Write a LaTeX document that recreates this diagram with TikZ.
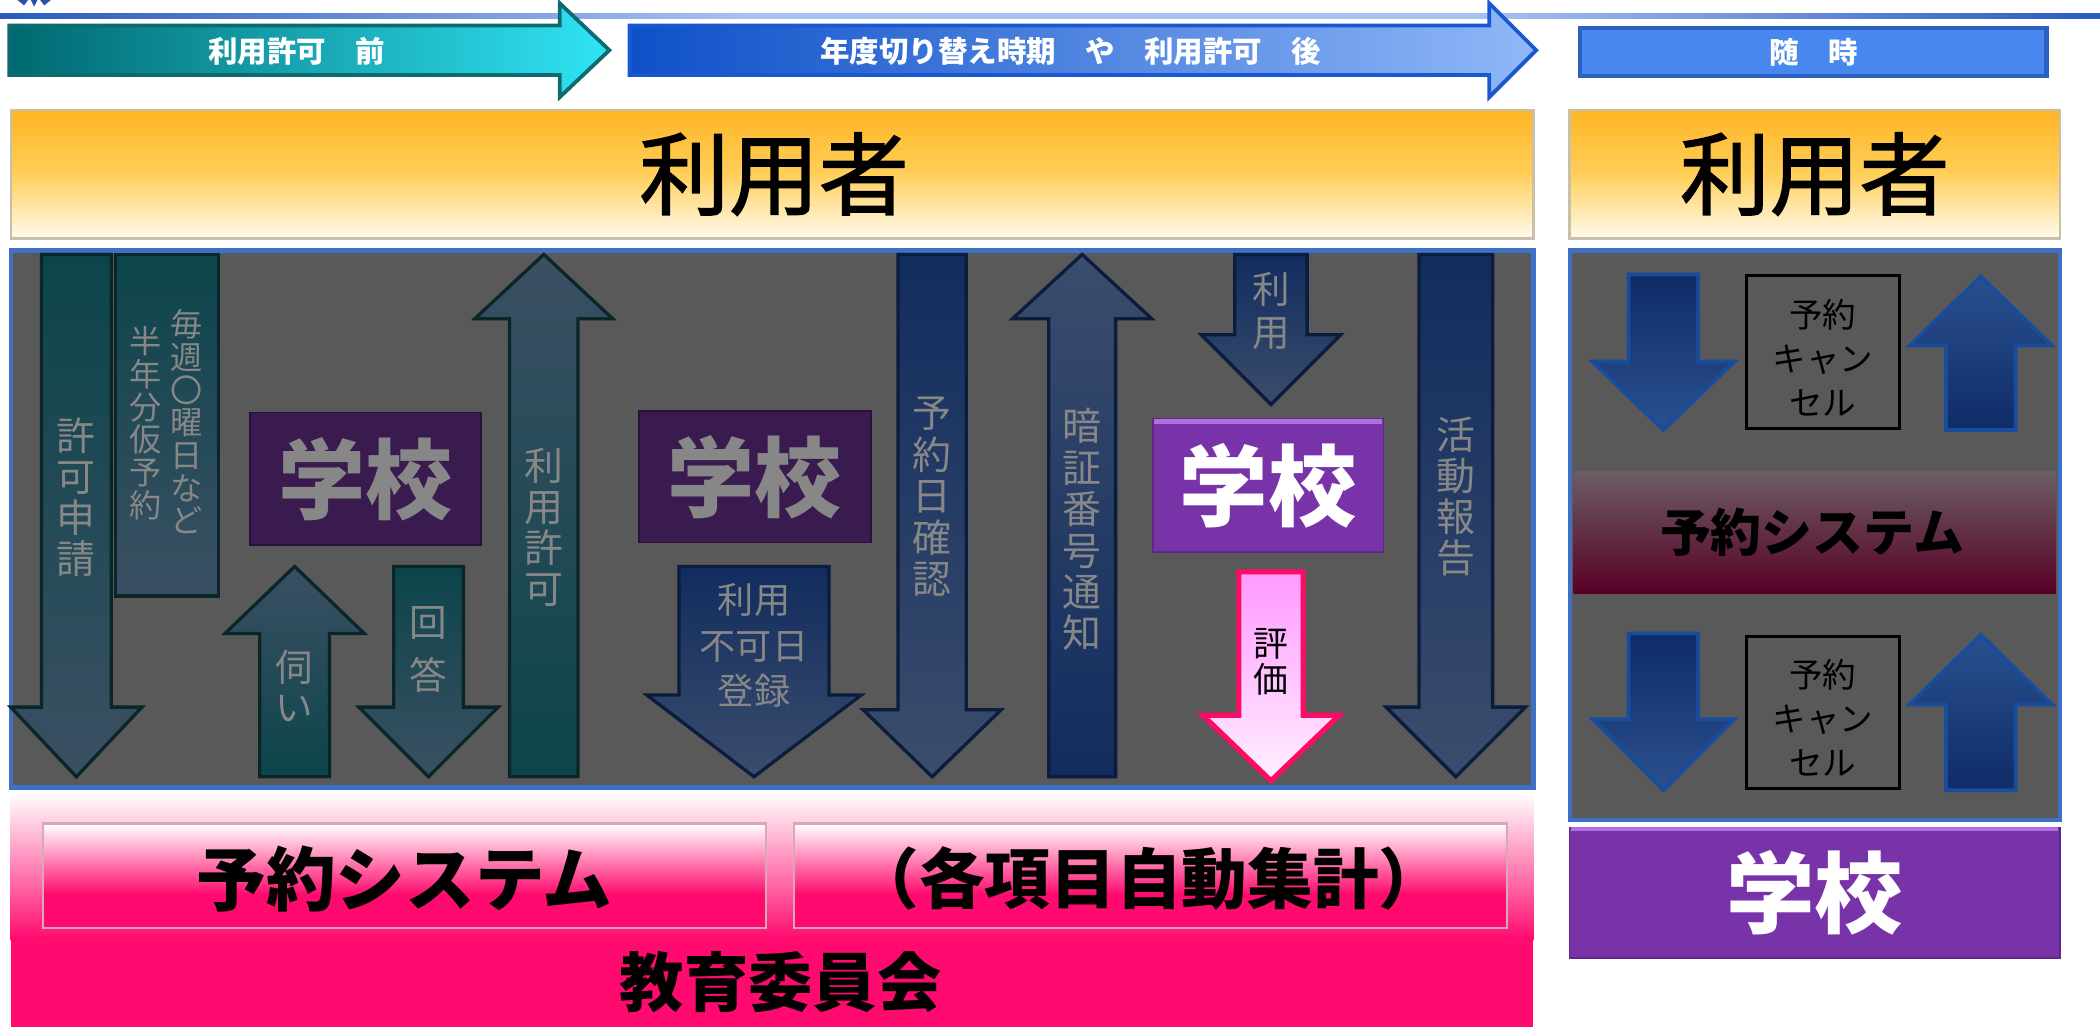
\documentclass[tikz,border=0pt]{standalone}
\usepackage{fontspec}
\setmainfont{Noto Sans CJK JP}
\newfontfamily\jpmed{Noto Sans CJK JP}[FakeBold=1.6]
\newcommand\fpx[2]{\fontsize{\fpeval{#1*0.28453}pt}{\fpeval{#2*0.28453}pt}\selectfont}
% arrow shapes: style, xc, ytop, ybase, ytip, half body, half head
\newcommand\ArDown[7]{\path[#1] ({#2-#6},#3) -- ({#2+#6},#3) -- ({#2+#6},#4) -- ({#2+#7},#4) -- (#2,#5) -- ({#2-#7},#4) -- ({#2-#6},#4) -- cycle;}
% style, xc, ytip, ybase, ybottom, half body, half head
\newcommand\ArUp[7]{\path[#1] (#2,#3) -- ({#2+#7},#4) -- ({#2+#6},#4) -- ({#2+#6},#5) -- ({#2-#6},#5) -- ({#2-#6},#4) -- ({#2-#7},#4) -- cycle;}
\definecolor{lineD}{HTML}{2A5AC0}
\definecolor{lineL}{HTML}{A8C2F0}
\definecolor{logoB}{HTML}{2A4FB0}
\definecolor{tealA}{HTML}{006870}
\definecolor{tealB}{HTML}{30E4F4}
\definecolor{tealEdge}{HTML}{0C6A70}
\definecolor{blueA}{HTML}{0E50C8}
\definecolor{blueB}{HTML}{90B8F8}
\definecolor{blueEdge}{HTML}{1A58D0}
\definecolor{zuiji}{HTML}{4787EE}
\definecolor{zuijiE}{HTML}{2B5FC0}
\definecolor{yelA}{HTML}{FFB525}
\definecolor{yelB}{HTML}{FFCF5A}
\definecolor{yelC}{HTML}{FFFBF0}
\definecolor{yelE}{HTML}{C8C0A8}
\definecolor{panelG}{HTML}{595959}
\definecolor{panelB}{HTML}{3E70C6}
\definecolor{tealT}{HTML}{0C454B}
\definecolor{tealS}{HTML}{3B4F63}
\definecolor{tealE}{HTML}{0A2629}
\definecolor{navyT}{HTML}{112C5E}
\definecolor{navyS}{HTML}{3B4D6D}
\definecolor{navyE}{HTML}{0B1C3C}
\definecolor{bluT}{HTML}{0E2C66}
\definecolor{bluS}{HTML}{2B508F}
\definecolor{bluE}{HTML}{1A4C9E}
\definecolor{pnkT}{HTML}{FF99FF}
\definecolor{pnkB}{HTML}{FFF0FF}
\definecolor{pnkE}{HTML}{FF0A64}
\definecolor{dimG}{HTML}{878787}
\definecolor{dimPur}{HTML}{3A1B4F}
\definecolor{dimPurE}{HTML}{2A1040}
\definecolor{purp}{HTML}{7833A8}
\definecolor{purpE}{HTML}{5E2A85}
\definecolor{purpL}{HTML}{B070E0}
\definecolor{hotpink}{HTML}{FF0A6E}
\definecolor{pinkE}{HTML}{D8A8B8}
\definecolor{bandT}{HTML}{6A5D64}
\definecolor{bandM}{HTML}{71213F}
\definecolor{bandB}{HTML}{5A0026}
\tikzset{
  tealdown/.style={top color=tealT, bottom color=tealS, draw=tealE, line width=0.7pt},
  tealup/.style={top color=tealS, bottom color=tealT, draw=tealE, line width=0.7pt},
  navydown/.style={top color=navyT, bottom color=navyS, draw=navyE, line width=0.7pt},
  navyup/.style={top color=navyS, bottom color=navyT, draw=navyE, line width=0.7pt},
  bluedown/.style={top color=bluT, bottom color=bluS, draw=bluE, line width=0.8pt},
  blueup/.style={top color=bluS, bottom color=bluT, draw=bluE, line width=0.8pt},
  pinkdown/.style={top color=pnkT, bottom color=pnkB, draw=pnkE, line width=1.1pt},
  dimtxt/.style={text=dimG, inner sep=0pt, align=center},
  toptxt/.style={text=white, inner sep=0pt, font=\bfseries\fpx{22}{22}},
  dimschool/.style={fill=dimPur, draw=dimPurE, line width=0.4pt, text=dimG, inner sep=0pt,
    font=\bfseries\fpx{65}{65}},
  school/.style={fill=purp, draw=purpE, line width=0.4pt, text=white, inner sep=0pt,
    font=\bfseries\fpx{66}{66}},
  cancelbox/.style={draw=black, line width=0.6pt, minimum width=1.14cm, minimum height=1.14cm, inner sep=0pt},
  canceltxt/.style={text=black, inner sep=0pt, align=center, font=\fpx{25}{33}},
  bigblack/.style={text=black, inner sep=0pt, font=\bfseries\fpx{52}{52}},
  usertxt/.style={text=black, inner sep=0pt, font=\jpmed\fpx{67}{67}},
}
\begin{document}
\begin{tikzpicture}[x=0.01cm,y=-0.01cm]
\useasboundingbox (0,0) rectangle (1568,767);
\fill[white] (0,0) rectangle (1568,767);
% clipped emblem at top-left
\fill[logoB] (13,0) -- (21,0) -- (18,4) -- cycle;
\fill[logoB] (23,0) -- (28,0) -- (25.5,5) -- cycle;
\fill[logoB] (30,0) -- (38,0) -- (33,4) -- cycle;
% top line
\shade[left color=lineD, right color=lineL] (0,10) rectangle (560,14);
\fill[lineL] (559,10) rectangle (1101,14);
\shade[left color=lineL, right color=lineD] (1100,10) rectangle (1568,14);
% phase arrows
\path[left color=tealA, right color=tealB, draw=tealEdge, line width=0.8pt]
  (7,19) -- (418,19) -- (418,2.5) -- (455,37.5) -- (418,72.5) -- (418,56) -- (7,56) -- cycle;
\node[toptxt] (ph1) at (221.5,38) {利用許可　前};
\path[left color=blueA, right color=blueB, draw=blueEdge, line width=0.8pt]
  (470,19) -- (1112,19) -- (1112,2.5) -- (1147,37.5) -- (1112,72.5) -- (1112,56) -- (470,56) -- cycle;
\node[toptxt] (ph2) at (799.5,38) {年度切り替え時期　や　利用許可　後};
\node[fill=zuiji, draw=zuijiE, line width=0.9pt, minimum width=3.48cm, minimum height=0.36cm, inner sep=0pt, text=white, font=\bfseries\fpx{22}{22}] (ph3) at (1354,39) {随　時};
% user bars
\shade[top color=yelA, bottom color=yelC, middle color=yelB] (8,82) rectangle (1145,178);
\draw[yelE, line width=0.5pt] (8,82) rectangle (1145,178);
\node[usertxt] (user1) at (578,130) {利用者};
\shade[top color=yelA, bottom color=yelC, middle color=yelB] (1172,82) rectangle (1538,178);
\draw[yelE, line width=0.5pt] (1172,82) rectangle (1538,178);
\node[usertxt] (user2) at (1355,130) {利用者};
% gray panels
\path[fill=panelG, draw=panelB, line width=0.9pt] (8,187) rectangle (1145,588);
\path[fill=panelG, draw=panelB, line width=0.9pt] (1172,187) rectangle (1538,612);
% left panel arrows (phase 1)
\ArDown{tealdown}{57}{190}{528}{580}{26}{49}
\node[dimtxt, font=\fpx{29}{30.6}] (t1) at (57,371) {許\\可\\申\\請};
\path[tealdown] (86,190) rectangle (163,445);
\node[dimtxt, font=\fpx{24}{24.4}] (t2a) at (139,315) {毎\\週\\〇\\曜\\日\\な\\ど};
\node[dimtxt, font=\fpx{24}{24.4}] (t2b) at (109,316) {半\\年\\分\\仮\\予\\約};
\node[dimschool, minimum width=1.72cm, minimum height=0.99cm] (s1) at (273,357.5) {学校};
\ArUp{tealup}{220}{423}{473}{580}{26}{52}
\node[dimtxt, font=\fpx{28}{30}] (t3) at (220,512) {伺\\い};
\ArDown{tealdown}{320}{423}{528}{580}{26}{52}
\node[dimtxt, font=\fpx{28}{40}] (t4) at (320,485) {回\\答};
\ArUp{tealup}{406}{190}{238}{580}{25.5}{51.5}
\node[dimtxt, font=\fpx{29}{30.6}] (t5) at (406,394) {利\\用\\許\\可};
% left panel arrows (phase 2)
\node[dimschool, minimum width=1.73cm, minimum height=0.98cm] (s2) at (563.5,356) {学校};
\ArDown{navydown}{563}{423}{519}{580}{56}{80}
\node[dimtxt, font=\fpx{27}{34}] (t6) at (563,482) {利用\\不可日\\登録};
\ArDown{navydown}{696}{190}{530}{580}{25.5}{51.5}
\node[dimtxt, font=\fpx{29}{31}] (t7) at (696,371) {予\\約\\日\\確\\認};
\ArUp{navyup}{808}{190}{238}{580}{25}{52}
\node[dimtxt, font=\fpx{29}{30.9}] (t8) at (808,395.5) {暗\\証\\番\\号\\通\\知};
\ArDown{navydown}{949}{190}{250}{302}{27}{52}
\node[dimtxt, font=\fpx{28}{32}] (t9) at (949,232) {利\\用};
\node[school, minimum width=1.72cm, minimum height=0.99cm] (s3) at (947,362.5) {学校};
\draw[purpL, line width=1pt] (862,314.5) -- (1032,314.5);
\ArDown{pinkdown}{949}{427}{534}{583}{24}{51}
\node[text=black, inner sep=0pt, align=center, font=\fpx{26}{27}] (t10) at (949,494) {評\\価};
\ArDown{navydown}{1087}{190}{528}{580}{27.5}{52}
\node[dimtxt, font=\fpx{29}{30.6}] (t11) at (1087,371) {活\\動\\報\\告};
% right panel
\shade[top color=bandT, middle color=bandM, bottom color=bandB] (1175,352) rectangle (1535,443);
\node[text=black, inner sep=0pt, font=\bfseries\fpx{38}{38}] (rsys) at (1353,397) {予約システム};
\ArDown{bluedown}{1242}{205}{270}{321}{26}{53}
\ArUp{blueup}{1479}{206.5}{258}{321}{26}{53}
\node[cancelbox] (c1) at (1361,263) {};
\node[canceltxt] (c1t) at (1361,267) {予約\\キャン\\セル};
\ArDown{bluedown}{1242}{473}{537}{590}{26}{53}
\ArUp{blueup}{1479}{474}{526}{590}{26}{53}
\node[cancelbox] (c2) at (1361,532) {};
\node[canceltxt] (c2t) at (1361,536) {予約\\キャン\\セル};
% right bottom school
\node[school, minimum width=3.66cm, minimum height=0.97cm] (s4) at (1355,666.5) {学校};
\draw[purpL, line width=1pt] (1173,619) -- (1537,619);
% bottom pink region
\shade[top color=white, bottom color=hotpink] (8,592) rectangle (1145,702);
\fill[hotpink] (8,700) rectangle (1145,767);
\shade[top color=white, bottom color=hotpink] (32,615) rectangle (572,668);
\fill[hotpink] (32,667) rectangle (572,693);
\draw[pinkE, line width=0.5pt] (32,615) rectangle (572,693);
\shade[top color=white, bottom color=hotpink] (593,615) rectangle (1125,668);
\fill[hotpink] (593,667) rectangle (1125,693);
\draw[pinkE, line width=0.5pt] (593,615) rectangle (1125,693);
\node[bigblack] (sys) at (302,656) {予約システム};
\node[text=black, inner sep=0pt, font=\bfseries\fpx{49}{49}] (agg) at (858,656) {（各項目自動集計）};
\node[text=black, inner sep=0pt, font=\bfseries\fpx{48}{48}] (board) at (583,733) {教育委員会};
\end{tikzpicture}
\end{document}
